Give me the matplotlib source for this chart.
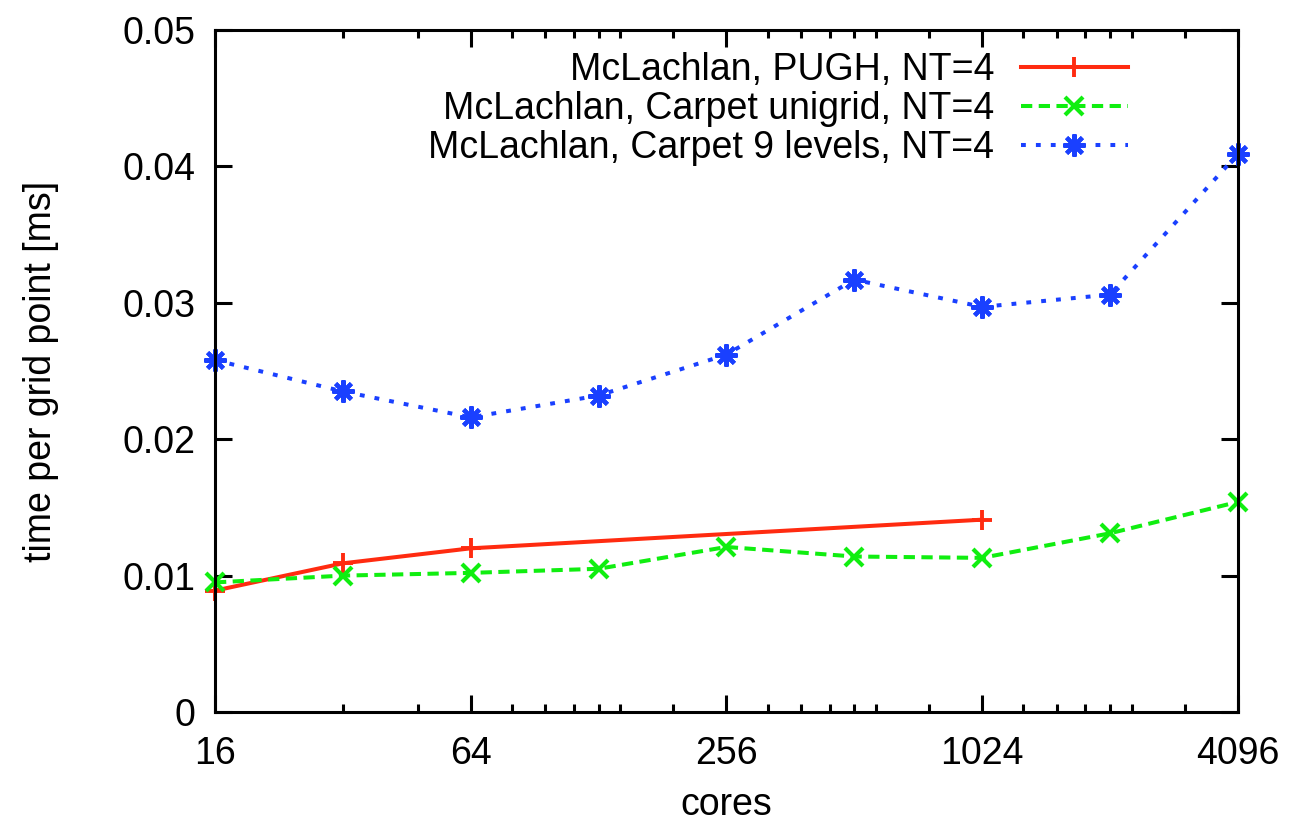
import matplotlib
matplotlib.use("Agg")
import matplotlib.pyplot as plt
from matplotlib.ticker import FixedLocator, NullFormatter

plt.rcParams['font.family'] = ['Liberation Sans', 'DejaVu Sans']

# cores used in each run
cores_pugh = [16, 32, 64, 1024]
cores_carpet = [16, 32, 64, 128, 256, 512, 1024, 2048, 4096]

# time per grid point [ms]
pugh = [0.0089, 0.0109, 0.0120, 0.0141]
carpet_unigrid = [0.0095, 0.0100, 0.0102, 0.0105, 0.0121, 0.0114, 0.0113, 0.0131, 0.0154]
carpet_9levels = [0.0258, 0.0235, 0.0216, 0.0232, 0.0262, 0.0317, 0.0297, 0.0306, 0.0409]

x_major = [16, 64, 256, 1024, 4096]
x_minor = [32, 48, 80, 96, 112, 128, 144, 192, 320, 384, 448, 512, 576, 768,
           1280, 1536, 1792, 2048, 2304, 3072]
y_ticks = [0, 0.01, 0.02, 0.03, 0.04, 0.05]
y_labels = ["0", "0.01", "0.02", "0.03", "0.04", "0.05"]

red = "#ff2b10"
green = "#10ee10"
blue = "#1a40ff"
fs = 27

fig = plt.figure(figsize=(12.92, 8.26), dpi=100)
ax = fig.add_axes([0.1664, 0.138, 0.958 - 0.1664, 0.9637 - 0.138])

ax.plot(cores_pugh, pugh, color=red, lw=2.9, marker="+", ms=14, mew=2.8,
        clip_on=False, label="McLachlan, PUGH, NT=4")
ax.plot(cores_carpet, carpet_unigrid, color=green, lw=2.9, dashes=(2.8, 1.6),
        marker="x", ms=13, mew=3.0, clip_on=False,
        label="McLachlan, Carpet unigrid, NT=4")
ax.plot(cores_carpet, carpet_9levels, color=blue, lw=2.9, dashes=(1.2, 2.5),
        marker=(8, 2, 0), ms=16, mew=3.0, clip_on=False,
        label="McLachlan, Carpet 9 levels, NT=4")

ax.set_xscale("log", base=2)
ax.set_xlim(16, 4096)
ax.set_ylim(0, 0.05)
ax.xaxis.set_major_locator(FixedLocator(x_major))
ax.set_xticklabels([str(v) for v in x_major])
ax.xaxis.set_minor_locator(FixedLocator(x_minor))
ax.xaxis.set_minor_formatter(NullFormatter())
ax.set_yticks(y_ticks)
ax.set_yticklabels(y_labels)
ax.yaxis.set_minor_locator(FixedLocator([]))

ax.tick_params(which="both", direction="in", top=True, right=True, width=2.2,
               labelsize=fs)
ax.tick_params(which="major", length=12)
ax.tick_params(which="minor", length=6)
ax.tick_params(axis="x", which="major", pad=17)
ax.tick_params(axis="y", which="major", pad=14)
for s in ax.spines.values():
    s.set_linewidth(2.2)

ax.set_xlabel("cores", fontsize=fs, labelpad=11)
ax.set_ylabel("time per grid point [ms]", fontsize=fs, labelpad=46)

leg = ax.legend(loc="upper right", bbox_to_anchor=(0.907, 0.99), frameon=False,
                markerfirst=False, fontsize=fs, handlelength=2.85,
                handletextpad=0.7, labelspacing=0.08, borderaxespad=0)

fig.savefig("out.png", dpi=100)
